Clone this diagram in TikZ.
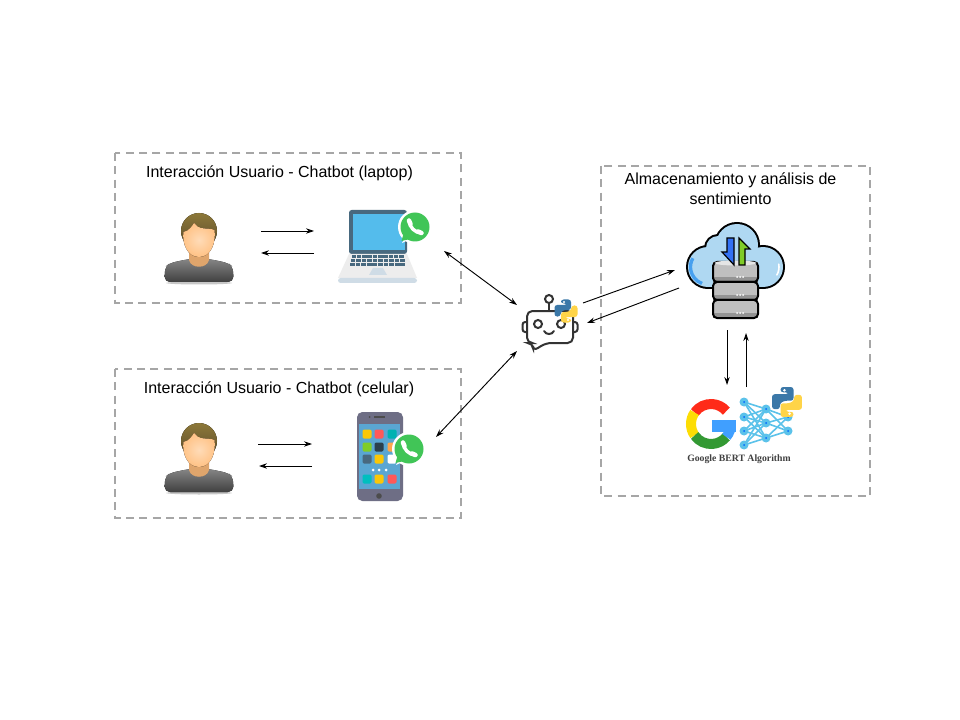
\documentclass[tikz,border=0pt]{standalone}
\usepackage{fontspec}
\setmainfont{Liberation Sans}
\newfontfamily\bertfont{Liberation Serif}
\usetikzlibrary{arrows.meta}

\definecolor{boxgray}{HTML}{A6A6A6}
\definecolor{wagreen}{HTML}{41C557}
\definecolor{pyblue}{HTML}{3B78A8}
\definecolor{pyyellow}{HTML}{FFD448}
\definecolor{screenblue}{HTML}{54BCEC}
\definecolor{slate}{HTML}{48697F}
\definecolor{netblue}{HTML}{5BC2EA}
\definecolor{cloudblue}{HTML}{AFD8F2}
\definecolor{padgray}{HTML}{CFDCE6}
\definecolor{phonegray}{HTML}{6E6E85}
\definecolor{phonescreen}{HTML}{5AA6D2}
\definecolor{hairbrown}{HTML}{80693F}
\definecolor{neckskin}{HTML}{DFA56C}

\tikzset{
  dashbox/.style={draw=boxgray, line width=1.5pt, dash pattern=on 6pt off 4pt},
  title/.style={font=\fontsize{12}{15}\selectfont, align=center, inner sep=0pt},
  link/.style={line width=0.7pt, -{Stealth[length=6pt,width=4pt]}},
  twolink/.style={line width=0.7pt, {Stealth[length=6pt,width=4pt]}-{Stealth[length=6pt,width=4pt]}},
  botline/.style={draw=black!80, line width=1.5pt},
  person/.pic={
    \fill[black!22] (0,35) ellipse (33 and 1.5);
    \fill[top color=black!48, bottom color=black!75, rounded corners=4]
      (-34.5,34) -- (-34,19) -- (-29,15) -- (-10,11) -- (10,11) -- (29,15) -- (34,19) -- (34.5,34) -- cycle;
    \fill[neckskin] (-10,2) -- (10,2) -- (10,12) .. controls (8,21) and (-8,21) .. (-10,12) -- cycle;
    \fill[top color=hairbrown!90!yellow, bottom color=hairbrown!70!black] (0,-17) circle (18);
    \fill[inner color=orange!28!white, outer color=orange!48!white]
      (-15.6,-16) .. controls (-10,-17) and (-7,-22) .. (-5,-25) .. controls (-2,-22) and (0,-20) .. (2,-20)
      .. controls (6,-19) and (11,-20) .. (15.6,-18) .. controls (17,-5) and (12,9) .. (0,9) .. controls (-12,9) and (-17,-5) .. (-15.6,-16) -- cycle;
  },
  whatsapp/.pic={
    \fill[white] (0,0) circle (17);
    \fill[white] (-13,16) -- (-9,8) -- (-5,12) -- cycle;
    \fill[wagreen] (0,0) circle (14.5);
    \fill[wagreen] (-13.5,14) -- (-11,5) -- (-5,12) -- cycle;
    \draw[white, line width=2.6pt, line cap=round] (-6,-6) .. controls (-5.5,0) and (0,6) .. (6.5,6);
    \draw[white, line width=3.4pt, line cap=round] (-6,-6.5) -- (-4.5,-3);
    \draw[white, line width=3.4pt, line cap=round] (6.5,6) -- (3,4.5);
  },
  python/.pic={
    \foreach \turn/\col in {0/pyblue, 180/pyyellow} {
      \begin{scope}[rotate=\turn]
        \fill[\col, rounded corners=2] (-5,-11.5) -- (5,-11.5) -- (5,-1) -- (-2,-1) -- (-5.5,1) -- (-5.5,5.5)
          -- (-11.5,5.5) -- (-11.5,-6) -- (1,-6) -- (1,-7.5) -- (-5,-7.5) -- cycle;
        \fill[white] (-2,-9) circle (1.1);
      \end{scope}
    }
  },
}

\begin{document}
\begin{tikzpicture}[x=0.75pt, y=-0.75pt]
\useasboundingbox (0,0) rectangle (960,720);
\fill[white] (0,0) rectangle (960,720);

% Boxes
\draw[dashbox] (115,153) rectangle (461,303);
\draw[dashbox] (115,369) rectangle (461,518);
\draw[dashbox] (601,166) rectangle (870,496);

\node[title] (titleLaptop) at (279.5,173) {Interacción Usuario - Chatbot (laptop)};
\node[title] (titlePhone) at (279,389) {Interacción Usuario - Chatbot (celular)};
\node[title] (titleCloud) at (730.5,188.5) {Almacenamiento y análisis de\\sentimiento};

% Users
\pic at (199,248) {person};
\pic at (199,458) {person};

% Laptop
\fill[slate, rounded corners=2] (349,210) -- (407,210) -- (407,254) -- (349,254) -- cycle;
\fill[screenblue] (353,214) rectangle (405,250);
\fill[black!7] (349,254) -- (407,254) -- (417,278) -- (338,278) -- cycle;
\fill[padgray, rounded corners=2] (338,278) rectangle (417,283);
\foreach \k in {0,...,9} {
  \fill[slate] ({351.5+5.3*\k},255.5) rectangle +(4.5,3);
  \fill[slate] ({350.5+5.5*\k},259.5) rectangle +(4.7,3);
  \fill[slate] ({350+5.6*\k},263.5) rectangle +(4.8,3);
}
\fill[padgray] (369,275) -- (387,275) -- (383,268) -- (373,268) -- cycle;
\pic at (415,227) {whatsapp};

% Phone
\fill[phonegray, rounded corners=4] (357,412) rectangle (403,501);
\fill[phonescreen] (359,424) rectangle (400,489);
\fill[black!70] (369.5,417) circle (1);
\fill[black!70] (374,416) rectangle (385,418);
\fill[black!70] (379,496) circle (2.8);
\foreach \cx/\cy/\col in {367/434/yellow!60!orange, 379/434/red!65!white, 392/434/teal!60!cyan,
    367/447/yellow!50!green, 379/447/slate!60!black, 392/447/orange!70!white,
    367/459/slate, 379/459/yellow!60!orange, 392/459/white,
    367/479/teal!50!cyan, 379/479/yellow!60!orange, 392/479/red!65!white}
  \fill[\col, rounded corners=1] (\cx-4.5,\cy-4.5) rectangle (\cx+4.5,\cy+4.5);
\foreach \cx in {373,379,386} \fill[white] (\cx,470) circle (1.5);
\pic at (409,449) {whatsapp};

% Chatbot
\draw[botline, rounded corners=2] (527,322) -- (522.5,322) -- (522.5,332) -- (527,332);
\draw[botline, rounded corners=2] (573,322) -- (577.5,322) -- (577.5,332) -- (573,332);
\draw[botline, rounded corners=4] (527,311) -- (573,311) -- (573,343) -- (546,343) -- (533,351) -- (533,343) -- (527,343) -- cycle;
\draw[botline] (549,303) -- (549,311);
\draw[botline] (549,299) circle (4);
\draw[botline] (538,324) circle (4);
\draw[botline] (561,324) circle (4);
\draw[botline, line cap=round] (544,331) .. controls (546,335) and (552,335) .. (554,331);
\pic at (566,311) {python};

% Cloud
\foreach \cx/\cy/\r in {737/245/21, 708/267/20, 718/248/12, 763/267/20}
  \draw[black, line width=3pt] (\cx,\cy) circle (\r);
\draw[black, line width=3pt] (708,287) -- (763,287);
\foreach \cx/\cy/\r in {737/245/21, 708/267/20, 718/248/12, 763/267/20}
  \fill[cloudblue] (\cx,\cy) circle (\r);
\fill[cloudblue] (708,255) rectangle (763,287);
\draw[screenblue!85!blue, line width=2.5pt] (708,267) ++(110:17.5) arc[start angle=110, end angle=210, radius=17.5];
\draw[white, line width=1.2pt, line cap=round] (763,267) ++(-10:16) arc[start angle=-10, end angle=30, radius=16];

% Database
\foreach \top/\low in {262/282, 282/300, 300/318} {
  \fill[black!25] (713,\top) rectangle (758,\low);
  \fill[black!42] (713,\low-5) rectangle (758,\low);
  \draw[black, line width=1.5pt, rounded corners=3] (713,\top) rectangle (758,\low);
  \foreach \dotx in {737,740,743} \fill[white] (\dotx,\low-5) circle (1);
}
\fill[black!10] (735.5,263) ellipse (21 and 2.5);

% Arrows in the cloud
\fill[screenblue!60!blue, draw=black, line width=0.9pt] (727,238) -- (734,238) -- (734,265) -- (722,252) -- (727,252) -- cycle;
\fill[yellow!50!green, draw=black, line width=0.9pt] (739,238) -- (750,249) -- (745,249) -- (745,265) -- (739,265) -- cycle;

% Google G
\begin{scope}[shift={(711,424)}, line width=7.5pt]
  \draw[red!85!orange!90!white] (-145:20) arc[start angle=-145, end angle=-40, radius=20];
  \draw[yellow!80!orange] (-145:20) arc[start angle=-145, end angle=-215, radius=20];
  \draw[green!50!black!80!white] (145:20) arc[start angle=145, end angle=40, radius=20];
  \draw[blue!50!cyan!75!white] (40:20) arc[start angle=40, end angle=0, radius=20];
  \fill[blue!50!cyan!75!white] (1,-4) rectangle (24.5,8);
\end{scope}

% Network
\foreach \ax/\ay in {744/402, 744/417, 744/431, 744/445}
  \foreach \bx/\by in {766/409, 766/423, 766/438}
    \draw[netblue, line width=1.2pt] (\ax,\ay) -- (\bx,\by);
\foreach \ax/\ay in {766/409, 766/423, 766/438}
  \foreach \bx/\by in {788/417, 788/431}
    \draw[netblue, line width=1.2pt] (\ax,\ay) -- (\bx,\by);
\foreach \cx/\cy in {744/402, 744/417, 744/431, 744/445, 766/409, 766/423, 766/438, 788/417, 788/431} {
  \fill[netblue] (\cx,\cy) circle (4.5);
  \fill[blue!60!cyan] (\cx,\cy) circle (1);
}
\pic[scale=1.3] at (787,402) {python};
\node[font=\bertfont\bfseries\fontsize{7.3}{8}\selectfont, text=black!75, inner sep=0pt] (bertText) at (739,459) {Google BERT Algorithm};

% Arrow ends
\foreach \name/\px/\py in {userA/261/231, laptopA/314/231, laptopB/314/253, userB/261/253,
    userC/258/444, phoneA/312/444, phoneB/312/466, userD/259/466,
    laptopC/444/251, botA/517/305, botB/517/351, phoneC/436/437,
    botC/583/303, cloudA/675/270, cloudB/679/288, botD/587/323,
    cloudC/727/330, bertA/727/385, bertB/746/387, cloudD/746/333}
  \coordinate (\name) at (\px,\py);

% Connectors
\foreach \i/\j in {userA/laptopA, laptopB/userB, userC/phoneA, phoneB/userD, botC/cloudA, cloudB/botD, cloudC/bertA, bertB/cloudD}
  \draw[link] (\i) -- (\j);
\foreach \i/\j in {laptopC/botA, botB/phoneC}
  \draw[twolink] (\i) -- (\j);

\end{tikzpicture}
\end{document}
